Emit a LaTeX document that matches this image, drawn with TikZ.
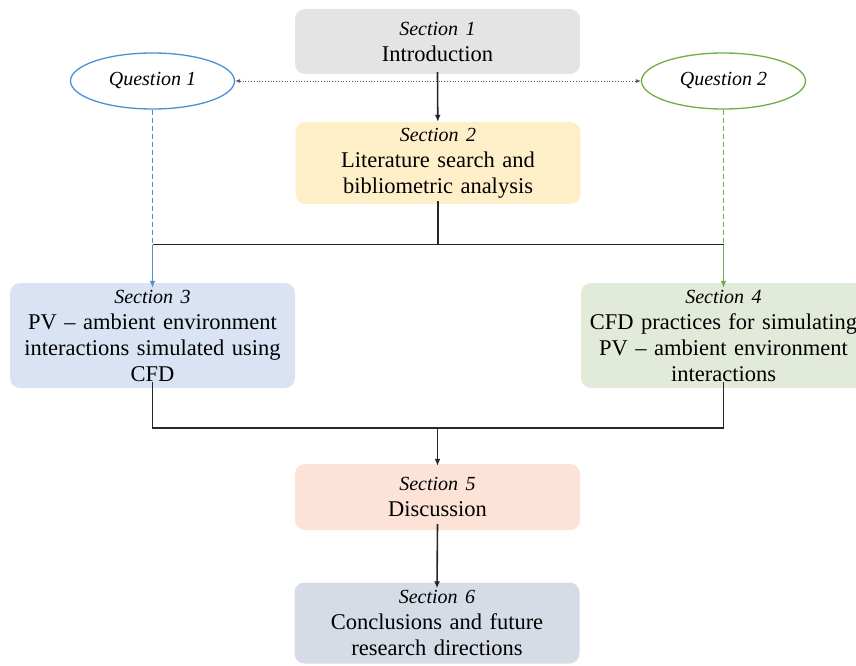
\documentclass[tikz,border=0pt]{standalone}
\usepackage{fontspec}
\setmainfont{Liberation Serif}
\usetikzlibrary{arrows.meta,shapes.geometric}
\definecolor{c1}{HTML}{E4E4E4}
\definecolor{c2}{HTML}{FFEFC9}
\definecolor{c3}{HTML}{DAE3F3}
\definecolor{c4}{HTML}{E2EBD9}
\definecolor{c5}{HTML}{FCE2D7}
\definecolor{c6}{HTML}{D6DCE5}
\definecolor{qblue}{HTML}{4A90D9}
\definecolor{qgreen}{HTML}{70AD47}
\newcommand{\sect}[1]{{\fontsize{20}{24}\selectfont\itshape #1}\\}
\tikzset{
  secbox/.style={rounded corners=10pt, draw=none, inner sep=0pt, align=center,
    minimum width=285pt, text width=280pt,
    font=\fontsize{22.5}{26}\selectfont},
  qnode/.style={ellipse, draw, line width=1.3pt, inner sep=0pt,
    minimum width=164pt, minimum height=56pt, font=\fontsize{20}{24}\selectfont\itshape},
  conn/.style={line width=1.6pt, black!85},
  arr/.style={conn, -{Latex[length=7pt,width=6pt]}},
  qdash/.style={line width=1.4pt, dash pattern=on 5pt off 3pt},
  qarr/.style={line width=1.4pt, -{Latex[length=7pt,width=6pt]}},
}
\begin{document}
\begin{tikzpicture}[x=1pt,y=-1pt]
\useasboundingbox (0,0) rectangle (856,666);
\node[secbox, fill=c1, minimum height=65pt] (s1) at (437.5,41.5) {\sect{Section 1}Introduction};
\node[secbox, fill=c2, minimum height=82pt] (s2) at (438,163) {\sect{Section 2}Literature search and\\bibliometric analysis};
\node[secbox, fill=c3, minimum height=105pt] (s3) at (152.5,335.5) {\sect{Section 3}PV -- ambient environment\\interactions simulated using\\CFD};
\node[secbox, fill=c4, minimum height=105pt] (s4) at (723.5,335.5) {\sect{Section 4}CFD practices for simulating\\PV -- ambient environment\\interactions};
\node[secbox, fill=c5, minimum height=66pt] (s5) at (437.5,497) {\sect{Section 5}Discussion};
\node[secbox, fill=c6, minimum height=81pt] (s6) at (437,623) {\sect{Section 6}Conclusions and future\\research directions};
\node[qnode, draw=qblue] (q1) at (152.5,81) {Question 1};
\node[qnode, draw=qgreen] (q2) at (723.5,81) {Question 2};
\coordinate (j1) at (438,244.5);
\coordinate (k1) at (437.5,428);
% connectors
\draw[line width=0.8pt, gray!70!black, dotted, {Latex[length=5pt,width=4pt]}-{Latex[length=5pt,width=4pt]}] (q1) -- (q2);
\draw[arr] ([yshift=2pt]s1.south) -- (s2);
\draw[conn] ([yshift=3pt]s2.south) -- (j1);
\draw[conn] (q1.south |- j1) -- (q2.south |- j1);
\draw[qdash, qblue] (q1.south) -- (q1.south |- j1);
\draw[qarr, qblue] (q1.south |- j1) -- ([yshift=-5pt]s3.north);
\draw[qdash, qgreen] (q2.south) -- (q2.south |- j1);
\draw[qarr, qgreen] (q2.south |- j1) -- ([yshift=-5pt]s4.north);
\draw[conn] ([yshift=6pt]s3.south) |- (k1) -| ([yshift=6pt]s4.south);
\draw[arr] (k1) -- ([yshift=-2pt]s5.north);
\draw[arr] ([yshift=6pt]s5.south) -- ([yshift=-6pt]s6.north);
\end{tikzpicture}
\end{document}
